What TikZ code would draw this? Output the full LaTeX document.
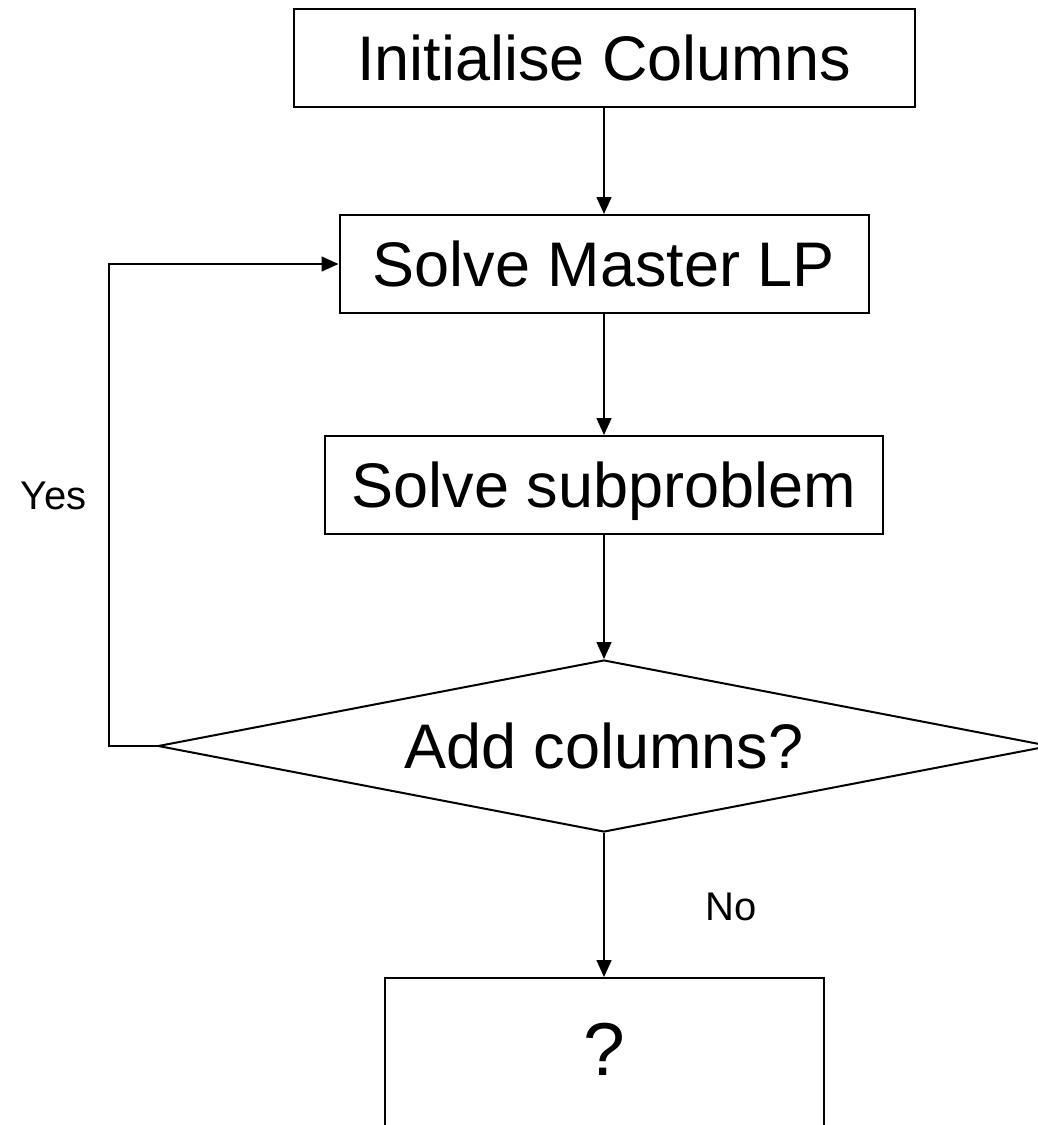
\documentclass[tikz,border=0pt]{standalone}
\usepackage{fontspec}
\setmainfont{Liberation Sans}
\usepackage{tikz}
\usetikzlibrary{positioning,shapes.geometric,arrows.meta}

\begin{document}
\begin{tikzpicture}[x=1pt,y=1pt,line width=1.5pt,>={Triangle[length=17pt,width=15pt]},
  stepbox/.style={draw,line width=2pt,inner sep=0pt,minimum height=98pt,text height=45pt,text depth=0pt,font=\fontsize{63}{70}\selectfont},
  choice/.style={draw,diamond,aspect=5.186,line width=2pt,inner sep=0pt,minimum width=892pt,minimum height=172pt,text height=45pt,text depth=0pt,font=\fontsize{63}{70}\selectfont},
  lbl/.style={inner sep=0pt,text height=29pt,text depth=0pt,font=\fontsize{40}{46}\selectfont}]
\useasboundingbox (0,0) rectangle (1038,-1125);
\clip (0,0) rectangle (1038,-1125);
\node[stepbox,minimum width=621pt] (init) at (604,-58) {Initialise Columns};
\node[stepbox,minimum width=529pt,node distance=106pt,below=of init] (master) {Solve Master LP};
\draw[->] (init) -- (master);
\node[stepbox,minimum width=558pt,node distance=121pt,below=of master] (sub) {Solve subproblem};
\draw[->] (master) -- (sub);
\node[choice,node distance=124pt,below=of sub] (dec) {Add columns?};
\draw[->] (sub) -- (dec);
\node[stepbox,minimum width=439pt,minimum height=154pt,text height=40pt,font=\fontsize{75}{80}\selectfont,node distance=144pt,below=of dec] (stop) {?};
\draw[->] (dec) -- node[lbl,right=101pt,yshift=-1pt] {No} (stop);
\draw[->] (dec.west) -- ++(-48pt,0) |- node[lbl,pos=0.26,left=22pt] {Yes} (master.west);
\end{tikzpicture}
\end{document}
